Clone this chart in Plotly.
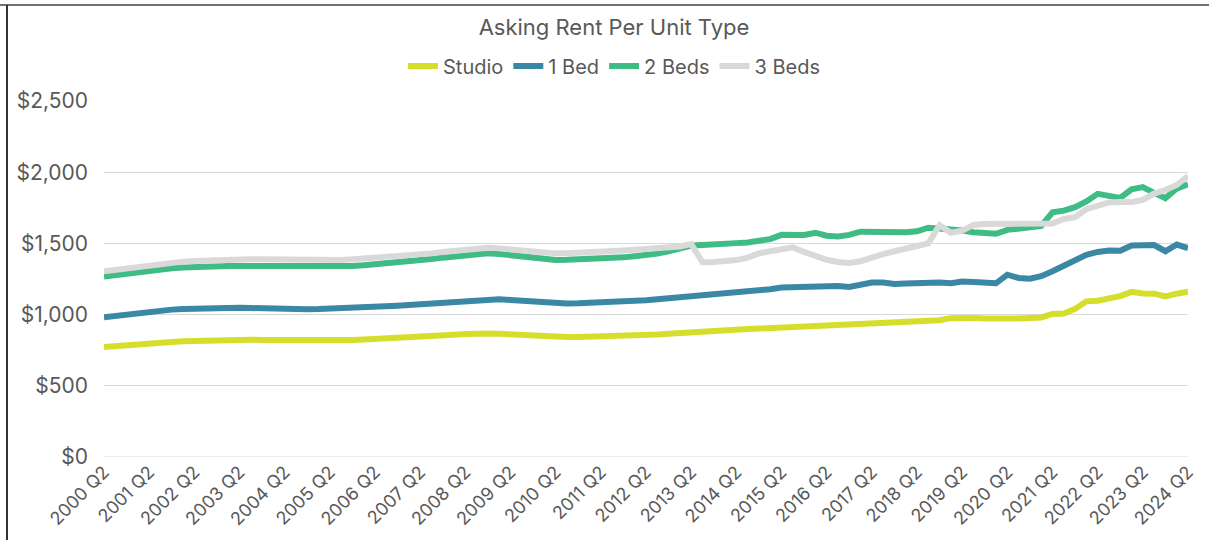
import plotly.graph_objects as go

# Quarterly periods 2000 Q2 .. 2024 Q2
quarters = []
for y in range(2000, 2025):
    for q in (1, 2, 3, 4):
        if (y == 2000 and q < 2) or (y == 2024 and q > 2):
            continue
        quarters.append(f"{y} Q{q}")

tick_labels = [f"{y} Q2" for y in range(2000, 2025)]

studio = [773, 780, 788, 795, 800,
          805, 808, 812, 815,
          818, 820, 822, 823,
          823, 822, 821, 820,
          820, 819, 819, 819,
          820, 822, 825, 828,
          831, 835, 838, 842,
          848, 853, 858, 863,
          868, 868, 865, 860,
          855, 850, 845, 843,
          843, 843, 844, 845,
          847, 849, 852, 856,
          860, 866, 872, 878,
          882, 886, 890, 894,
          898, 902, 906, 912,
          916, 920, 924, 926,
          930, 934, 938, 941,
          944, 947, 950, 954,
          957, 960, 975, 978,
          977, 972, 970, 970,
          973, 977, 980, 1005,
          1008, 1040, 1093, 1097,
          1115, 1130, 1160, 1148,
          1147, 1127, 1147, 1160]

bed1 = [982, 992, 1002, 1012, 1022,
        1030, 1035, 1040, 1043,
        1045, 1046, 1047, 1048,
        1046, 1043, 1040, 1038,
        1037, 1038, 1039, 1041,
        1043, 1046, 1050, 1054,
        1058, 1063, 1068, 1073,
        1080, 1088, 1095, 1102,
        1107, 1110, 1108, 1103,
        1096, 1089, 1083, 1079,
        1078, 1079, 1081, 1084,
        1088, 1092, 1096, 1101,
        1107, 1114, 1121, 1129,
        1133, 1138, 1143, 1150,
        1158, 1165, 1178, 1190,
        1193, 1194, 1198, 1205,
        1200, 1194, 1210, 1225,
        1225, 1215, 1218, 1222,
        1228, 1226, 1220, 1232,
        1229, 1225, 1220, 1280,
        1257, 1252, 1270, 1305,
        1345, 1390, 1420, 1440,
        1450, 1448, 1485, 1487,
        1488, 1445, 1492, 1467]

bed2 = [1267, 1278, 1288, 1298, 1307,
        1318, 1325, 1330, 1335,
        1338, 1340, 1341, 1342,
        1342, 1340, 1336, 1332,
        1332, 1333, 1334, 1335,
        1338, 1342, 1347, 1353,
        1359, 1365, 1372, 1380,
        1390, 1400, 1410, 1420,
        1427, 1430, 1426, 1418,
        1405, 1395, 1387, 1384,
        1385, 1387, 1389, 1392,
        1396, 1402, 1410, 1418,
        1428, 1445, 1462, 1485,
        1488, 1490, 1495, 1502,
        1507, 1520, 1530, 1560,
        1559, 1559, 1575, 1554,
        1549, 1560, 1582, 1580,
        1578, 1578, 1578, 1585,
        1610, 1605, 1600, 1590,
        1578, 1575, 1568, 1595,
        1605, 1615, 1622, 1718,
        1730, 1755, 1795, 1848,
        1836, 1820, 1880, 1895,
        1855, 1818, 1885, 1915]

bed3 = [1305, 1315, 1325, 1335, 1345,
        1360, 1366, 1372, 1376,
        1380, 1384, 1386, 1389,
        1389, 1388, 1386, 1384,
        1383, 1382, 1382, 1382,
        1384, 1388, 1393, 1398,
        1404, 1410, 1416, 1422,
        1430, 1440, 1450, 1460,
        1468, 1470, 1465, 1458,
        1448, 1440, 1433, 1430,
        1430, 1432, 1435, 1440,
        1445, 1450, 1455, 1460,
        1465, 1470, 1478, 1495,
        1368, 1370, 1375, 1383,
        1400, 1430, 1445, 1460,
        1472, 1440, 1410, 1385,
        1370, 1362, 1375, 1405,
        1425, 1445, 1465, 1485,
        1500, 1628, 1575, 1590,
        1630, 1636, 1636, 1636,
        1636, 1636, 1636, 1640,
        1672, 1684, 1740, 1760,
        1788, 1790, 1790, 1805,
        1850, 1875, 1910, 1973]

series = [("Studio", studio, "#d5df2b"),
          ("1 Bed", bed1, "#3a88a3"),
          ("2 Beds", bed2, "#3fbb84"),
          ("3 Beds", bed3, "#d9d9d9")]

fig = go.Figure()
for name, vals, color in series:
    fig.add_trace(go.Scatter(x=quarters, y=vals, name=name, mode="lines",
                             line=dict(color=color, width=6)))

FONT = "Inter, Lato, Roboto, sans-serif"
fig.update_layout(
    width=1209, height=540,
    margin=dict(l=104, r=21, t=101, b=83, autoexpand=False),
    paper_bgcolor="white", plot_bgcolor="white",
    font=dict(family=FONT, color="#595959"),
    title=dict(text="Asking Rent Per Unit Type", x=614 / 1209, xanchor="center",
               y=1 - 27 / 540, yanchor="middle",
               font=dict(size=22, color="#595959", family=FONT)),
    legend=dict(orientation="h", x=(614 - 104) / 1084, xanchor="center",
                y=(457 - 66) / 356, yanchor="middle",
                font=dict(size=20, color="#595959"),
                traceorder="normal", itemwidth=30, bgcolor="rgba(0,0,0,0)"),
    showlegend=True,
)
fig.update_xaxes(type="category", tickmode="array", tickvals=tick_labels,
                 ticktext=tick_labels, tickangle=-45, showgrid=False,
                 showline=False, ticks="", tickfont=dict(size=18, color="#595959"),
                 zeroline=False, automargin=False)
fig.update_yaxes(range=[0, 2500], dtick=500, tickprefix="$", tickformat=",d",
                 showgrid=True, gridcolor="#d9d9d9", gridwidth=1,
                 zeroline=False, showline=False, ticks="", automargin=False,
                 tickfont=dict(size=21, color="#595959"), ticklabelstandoff=15)

# baseline at $0
fig.add_shape(type="line", xref="paper", yref="y", x0=0, x1=1, y0=0, y1=0,
              line=dict(color="#d9d9d9", width=1), layer="below")
# outer frame (top and left edges of the cropped chart)
fig.add_shape(type="line", xref="paper", yref="paper",
              x0=(0 - 104) / 1084, x1=(1209 - 104) / 1084,
              y0=(457 - 5) / 356, y1=(457 - 5) / 356,
              line=dict(color="#707070", width=2))
fig.add_shape(type="line", xref="paper", yref="paper",
              x0=(7 - 104) / 1084, x1=(7 - 104) / 1084,
              y0=(457 - 5) / 356, y1=(457 - 545) / 356,
              line=dict(color="#333333", width=2))

fig.write_html("out.html", config={"displayModeBar": False},
               post_script="document.body.style.margin='0';document.body.style.overflow='hidden';")
